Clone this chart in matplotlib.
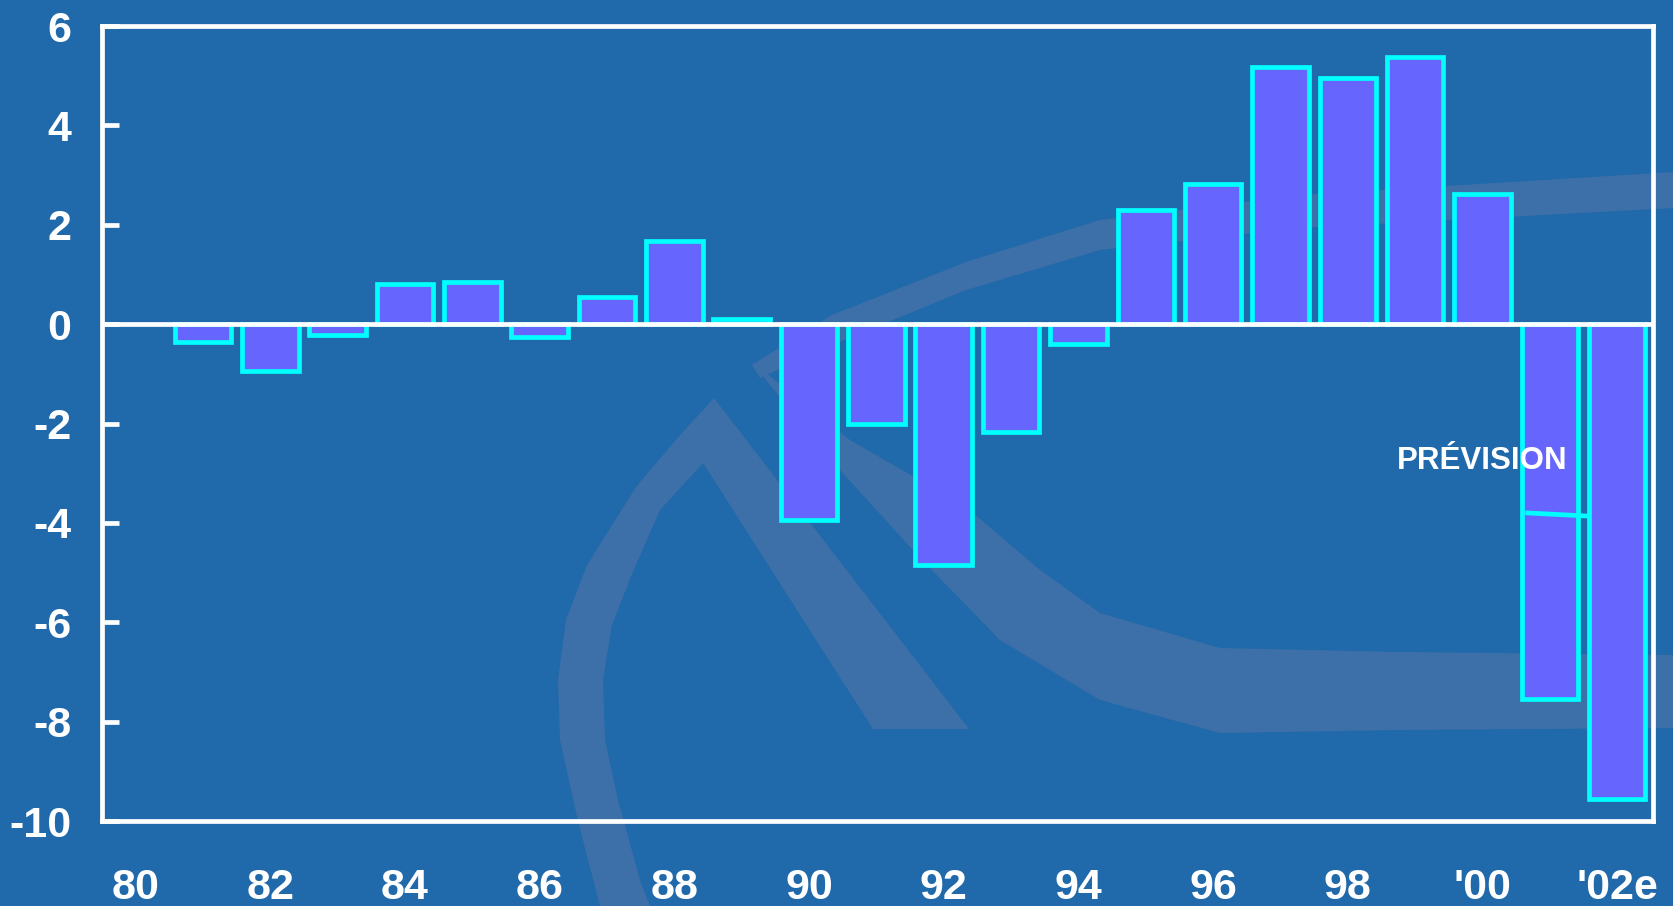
import matplotlib
matplotlib.use("Agg")
import matplotlib.pyplot as plt

# yearly values, 81 .. '02e (x position = year, 100 = 2000)
years = [81, 82, 83, 84, 85, 86, 87, 88, 89, 90, 91,
         92, 93, 94, 95, 96, 97, 98, 99, 100, 101, 102]
values = [-0.35, -0.95, -0.22, 0.8, 0.84, -0.25, 0.55, 1.68, 0.1, -3.95, -2.0,
          -4.85, -2.18, -0.4, 2.3, 2.82, 5.17, 4.96, 5.37, 2.62, -7.55, -9.55]

xtick_pos = [80, 82, 84, 86, 88, 90, 92, 94, 96, 98, 100, 102]
xtick_labels = ["80", "82", "84", "86", "88", "90", "92", "94", "96", "98", "'00", "'02e"]
ytick_pos = [6, 4, 2, 0, -2, -4, -6, -8, -10]
ytick_labels = ["6", "4", "2", "0", "-2", "-4", "-6", "-8", "-10"]

# forecast marker on the 2001 bar
forecast_x = [100.67, 101.53]
forecast_y = [-3.80, -3.86]

bg = "#2069AA"
wm = "#3D70A8"
bar_face = "#6666FF"
bar_edge = "#00FFFF"

plt.rcParams['font.family'] = ['Liberation Sans', 'DejaVu Sans']

fig = plt.figure(figsize=(16.74, 9.06), dpi=100)
fig.patch.set_facecolor(bg)

# faint logo watermark behind the chart (figure pixel coords)
wmax = fig.add_axes([0, 0, 1, 1], zorder=0)
wmax.set_xlim(0, 1674)
wmax.set_ylim(906, 0)
wmax.axis("off")

# left arc + right leg of the "A"
logo_x = [600, 578, 560, 558, 566, 587, 636, 680, 714, 969, 873, 703,
          660, 632, 612, 603, 605, 618, 640, 650]
logo_y = [906, 821, 740, 680, 620, 565, 487, 435, 398, 729, 729, 463,
          510, 574, 625, 680, 740, 800, 880, 906]
wmax.fill(logo_x, logo_y, color=wm, lw=0)

# upper swoosh
up_x = [752, 832, 966, 1100, 1300, 1674, 1674, 1300, 1100, 966, 832, 760]
up_y = [365, 315, 262, 220, 195, 172, 208, 228, 250, 290, 345, 378]
wmax.fill(up_x, up_y, color=wm, lw=0)

# lower swoosh
low_x = [752, 850, 966, 1040, 1100, 1220, 1400, 1674,
         1674, 1400, 1220, 1100, 1000, 922, 840, 770]
low_y = [362, 440, 507, 570, 613, 648, 652, 655,
         728, 730, 733, 700, 640, 560, 470, 385]
wmax.fill(low_x, low_y, color=wm, lw=0)

ax = fig.add_axes([0.0609, 0.0938, 0.9265, 0.8775], zorder=1)
ax.patch.set_alpha(0)

ax.bar(years, values, width=0.84, color=bar_face, edgecolor=bar_edge,
       linewidth=3.4, zorder=2)
ax.axhline(0, color="white", lw=3.4, zorder=3)
ax.plot(forecast_x, forecast_y, color=bar_edge, lw=3.4, zorder=4)
ax.text(100.0, -2.92, "PRÉVISION", color="white", fontsize=22.5,
        fontweight="bold", ha="center", va="baseline", zorder=5)

ax.set_xlim(79.5, 102.53)
ax.set_ylim(-10, 6)

for s in ax.spines.values():
    s.set_color("white")
    s.set_linewidth(3.4)

ax.set_yticks(ytick_pos)
ax.set_yticklabels(ytick_labels)
ax.set_xticks(xtick_pos)
ax.set_xticklabels(xtick_labels)
ax.tick_params(axis="y", direction="in", length=12, width=3.4, color="white",
               labelcolor="white", labelsize=31, pad=22)
ax.tick_params(axis="x", length=0, labelcolor="white", labelsize=31, pad=34)
for lab in ax.get_xticklabels() + ax.get_yticklabels():
    lab.set_fontweight("bold")

fig.savefig("out.png", dpi=100, facecolor=bg)
